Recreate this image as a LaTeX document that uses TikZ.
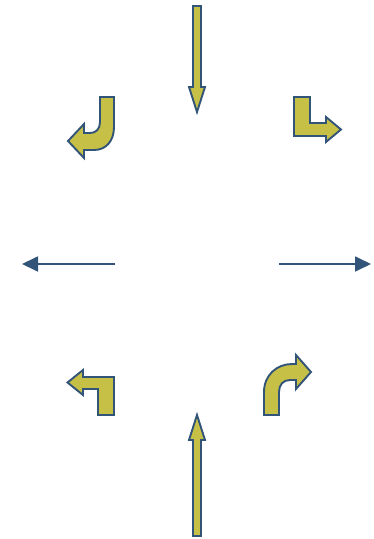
\documentclass[tikz,border=0pt]{standalone}
\usetikzlibrary{arrows.meta}
\definecolor{arrowfill}{RGB}{199,192,70}
\definecolor{edgeblue}{RGB}{50,84,120}
\tikzset{
  turnarrow/.style={draw=edgeblue, fill=arrowfill, line width=1.9pt, line join=miter},
  flatarrow/.style={draw=edgeblue, line width=1.8pt, -{Triangle[length=16pt,width=15pt]}}
}
\begin{document}
\begin{tikzpicture}[x=1pt,y=-1pt]
\useasboundingbox (0,0) rectangle (374,539);
% top straight arrow (down)
\path[turnarrow] (193,6) -- (201,6) -- (201,87) -- (205,87) -- (197,112) -- (189,87) -- (193,87) -- cycle;
% bottom straight arrow (up)
\path[turnarrow] (193,536) -- (201,536) -- (201,440) -- (205,440) -- (197,415) -- (189,440) -- (193,440) -- cycle;
% top-left U-turn style arrow
\path[turnarrow] (100,97) -- (114,97) -- (114,127) .. controls (114,141) and (106,150) .. (94,150) -- (84,150) -- (84,158) -- (68,141) -- (84,124) -- (84,133) -- (90,133) .. controls (96,133) and (100,129) .. (100,122) -- cycle;
% top-right L arrow
\path[turnarrow] (294,97) -- (310,97) -- (310,123) -- (326,123) -- (326,117) -- (341,129.5) -- (326,142) -- (326,136) -- (294,136) -- cycle;
% bottom-left L arrow
\path[turnarrow] (114,415) -- (98,415) -- (98,389) -- (83,389) -- (83,395) -- (67.5,382.5) -- (83,370) -- (83,377) -- (114,377) -- cycle;
% bottom-right curved arrow
\path[turnarrow] (264,415) -- (264,392) .. controls (264,375) and (277,364) .. (292,364) -- (296,364) -- (296,355) -- (311,372) -- (296,389) -- (296,380) -- (290,380) .. controls (283,380) and (279,385) .. (279,392) -- (279,415) -- cycle;
% horizontal arrows
\coordinate (lstart) at (115,264);
\coordinate (lend) at (22,264);
\coordinate (rstart) at (279,264);
\coordinate (rend) at (371,264);
\draw[flatarrow] (lstart) -- (lend);
\draw[flatarrow] (rstart) -- (rend);
\end{tikzpicture}
\end{document}
